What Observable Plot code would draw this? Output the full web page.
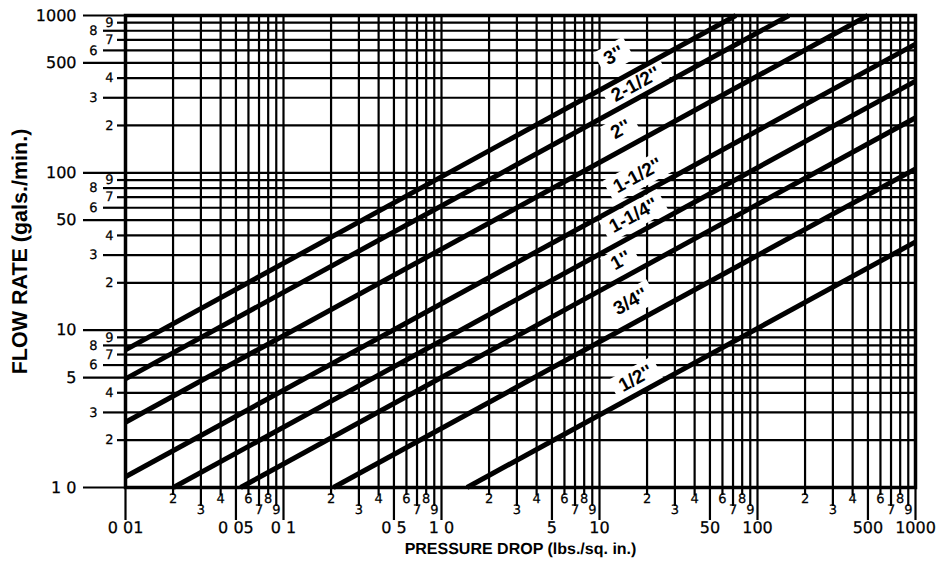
<!DOCTYPE html>
<html><head><meta charset="utf-8">
<script src="https://cdn.jsdelivr.net/npm/d3@7"></script>
<script src="https://cdn.jsdelivr.net/npm/@observablehq/plot@0.6"></script>
<style>body{margin:0;background:#fff} svg text{text-rendering:geometricPrecision}</style>
</head><body><div id="chart"></div>
<script>
// Pipe sizes and the end points of each straight (log-log) line
const sizes  = ["3''", "2-1/2''", "2''", "1-1/2''", "1-1/4''", "1''", "3/4''", "1/2''"];
const startX = [0.01, 0.01, 0.01, 0.01, 0.0201, 0.0535, 0.207, 1.45];
const startY = [7.5, 4.9, 2.6, 1.17, 1, 1, 1, 1];
const endX   = [73, 158, 500, 1000, 1000, 1000, 1000, 1000];
const endY   = [1000, 1000, 1000, 658, 383, 224, 106, 36.4];
// label centres (data units)
const labelX = [12.3, 16.9, 13.6, 17.4, 16.4, 13.6, 15.7, 16.9];
const labelY = [558, 365, 189, 96, 53.6, 27.7, 15.2, 4.93];

// Axes
const decadesX = [0.01, 0.1, 1, 10, 100];
const decadesY = [1, 10, 100];
const digits = [1, 2, 3, 4, 5, 6, 7, 8, 9];
const xMajorTicks  = [0.01, 0.05, 0.1, 0.5, 1, 5, 10, 50, 100, 500, 1000];
const xMajorLabels = ["0 01", "0 05", "0 1", "0 5", "1 0", "5", "10", "50", "100", "500", "1000"];
const yMajorTicks  = [1, 5, 10, 50, 100, 500, 1000];
const yMajorLabels = ["1 0", "5", "10", "50", "100", "500", "1000"];
const xInnerDigits = [2, 4, 6, 8];
const xOuterDigits = [3, 7, 9];
const yInnerDigits = [2, 4, 7, 9];
const yOuterDigits = [3, 6, 8];
const xTitle = "PRESSURE DROP (lbs./sq. in.)";
const yTitle = "FLOW RATE (gals./min.)";

const mult = (decs, ks) => decs.flatMap(d => ks.map(k => +(k * d).toPrecision(3)));
const xGrid = mult(decadesX, digits).concat([1000]);
const yGrid = mult(decadesY, digits).concat([1000]);
const xInner = mult(decadesX, xInnerDigits);
const xOuter = mult(decadesX, xOuterDigits);
const yInner = mult(decadesY, yInnerDigits);
const yOuter = mult(decadesY, yOuterDigits);
const digitOf = v => String(Math.round(v / Math.pow(10, Math.floor(Math.log10(v) + 1e-9))));

const lines = sizes.map((s, i) => ({size: s, x1: startX[i], y1: startY[i], x2: endX[i], y2: endY[i]}));
const labels = sizes.map((s, i) => ({size: s, x: labelX[i], y: labelY[i]}));

const ANG = -28.7;
const labelStyle = {x: "x", y: "y", text: "size", rotate: ANG, fontSize: 19, fontWeight: "bold",
  fontFamily: "'Liberation Sans', Arial, sans-serif"};
const num = {fontFamily: "'DejaVu Sans', sans-serif", fill: "black", stroke: "black", strokeWidth: 0.25};
const gridW = 2.2;
const noLabel = () => "";

const chart = Plot.plot({
  width: 948, height: 568,
  marginLeft: 125, marginRight: 33, marginTop: 15, marginBottom: 81,
  x: {type: "log", domain: [0.01, 1000], axis: null},
  y: {type: "log", domain: [1, 1000], axis: null},
  style: {fontFamily: "'Liberation Sans', Arial, sans-serif", color: "black", background: "white"},
  marks: [
    Plot.ruleX(xGrid, {stroke: "black", strokeWidth: gridW}),
    Plot.ruleY(yGrid, {stroke: "black", strokeWidth: gridW}),
    Plot.text(labels, {...labelStyle, fill: "white"}),
    Plot.link(lines, {x1: "x1", y1: "y1", x2: "x2", y2: "y2", stroke: "black", strokeWidth: 5}),
    Plot.text(labels, {...labelStyle, fill: "black"}),
    Plot.frame({stroke: "black", strokeWidth: 3.5}),
    // tick lines beyond the frame
    Plot.axisX(xMajorTicks, {anchor: "bottom", tickSize: 33, strokeWidth: gridW, tickFormat: noLabel, label: null}),
    Plot.axisX(xInner, {anchor: "bottom", tickSize: 8, strokeWidth: gridW, tickFormat: noLabel, label: null}),
    Plot.axisX(xOuter, {anchor: "bottom", tickSize: 19, strokeWidth: gridW, tickFormat: noLabel, label: null}),
    Plot.axisY(yMajorTicks, {anchor: "left", tickSize: 42, strokeWidth: gridW, tickFormat: noLabel, label: null}),
    Plot.axisY(yInner, {anchor: "left", tickSize: 8, strokeWidth: gridW, tickFormat: noLabel, label: null}),
    Plot.axisY(yOuter, {anchor: "left", tickSize: 22, strokeWidth: gridW, tickFormat: noLabel, label: null}),
    // tick labels
    Plot.text(xMajorTicks, {x: d => d, frameAnchor: "bottom", dy: 45, text: (d, i) => xMajorLabels[i], fontSize: 16, ...num}),
    Plot.text(xInner, {x: d => d, frameAnchor: "bottom", dy: 15, text: digitOf, fontSize: 13, ...num}),
    Plot.text(xOuter, {x: d => d, frameAnchor: "bottom", dy: 26, text: digitOf, fontSize: 13, ...num}),
    Plot.text(yMajorTicks, {y: d => d, frameAnchor: "left", dx: -49, textAnchor: "end", text: (d, i) => yMajorLabels[i], fontSize: 16, ...num}),
    Plot.text(yInner, {y: d => d, frameAnchor: "left", dx: -16, textAnchor: "middle", text: digitOf, fontSize: 13, ...num}),
    Plot.text(yOuter, {y: d => d, frameAnchor: "left", dx: -32, textAnchor: "middle", text: digitOf, fontSize: 13, ...num}),
    // titles
    Plot.text([xTitle], {frameAnchor: "bottom", dy: 66, fontSize: 16, fontWeight: "bold"}),
    Plot.text([yTitle], {frameAnchor: "left", dx: -105, textAnchor: "middle", rotate: -90, fontSize: 21.5, fontWeight: "bold"})
  ]
});
document.getElementById("chart").appendChild(chart);

// Turn the first (white) label layer into white boxes behind the labels
const boxGroup = chart.querySelector('g[aria-label="text"]');
if (boxGroup) {
  boxGroup.querySelectorAll("text").forEach(t => {
    const b = t.getBBox();
    const r = document.createElementNS("http://www.w3.org/2000/svg", "rect");
    r.setAttribute("x", b.x - 7); r.setAttribute("y", b.y - 2);
    r.setAttribute("width", b.width + 14); r.setAttribute("height", b.height + 4);
    r.setAttribute("fill", "white");
    if (t.getAttribute("transform")) r.setAttribute("transform", t.getAttribute("transform"));
    t.parentNode.insertBefore(r, t);
    t.remove();
  });
}
</script></body></html>
